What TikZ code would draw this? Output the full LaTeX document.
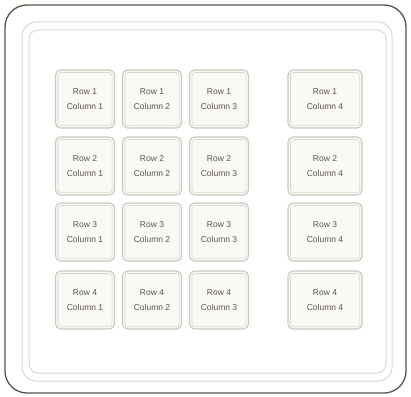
\documentclass[tikz,border=0pt]{standalone}
\usepackage{fontspec}
\setmainfont{Liberation Sans}
\usepackage{xcolor}
\usetikzlibrary{calc}
\definecolor{framedark}{HTML}{5C5346}
\definecolor{panelline}{HTML}{D9D9D0}
\definecolor{keyline}{HTML}{C9C9BD}
\definecolor{keyfill}{HTML}{F9F9F6}
\definecolor{keytext}{HTML}{5E5547}

\tikzset{
  key/.style={draw=keyline, line width=1.1pt, fill=keyfill, rounded corners=5pt,
    minimum width=59pt, minimum height=58pt, inner sep=0pt, align=center,
    text=keytext, font=\fontsize{8.5}{15}\selectfont},
  widekey/.style={key, minimum width=74pt},
  bevel/.style={draw=panelline, line width=0.6pt, rounded corners=3pt}
}

\begin{document}
\begin{tikzpicture}[x=1pt,y=-1pt]
  \useasboundingbox (0,0) rectangle (411,396);
  \fill[white] (0,0) rectangle (411,396);
  % housing
  \draw[framedark, line width=1.3pt, rounded corners=22pt] (5,5) rectangle (406,393);
  \draw[panelline, line width=1pt, rounded corners=14pt] (22,22) rectangle (392,381);
  \draw[panelline, line width=1pt, rounded corners=9pt] (29,30) rectangle (386,373);
  % keys
  \foreach \r/\y in {1/99,2/166,3/232,4/300} {
    \foreach \c/\x in {1/85,2/152,3/219}
      \node[key] (k\r\c) at (\x,\y) {Row \r\\Column \c};
    \node[widekey] (k\r4) at (325,\y) {Row \r\\Column 4};
  }
  \foreach \r in {1,2,3,4} {
    \foreach \c in {1,2,3,4}
      \draw[bevel] ([shift={(3,3)}]k\r\c.north west) rectangle ([shift={(-3,-3)}]k\r\c.south east);
  }
\end{tikzpicture}
\end{document}
